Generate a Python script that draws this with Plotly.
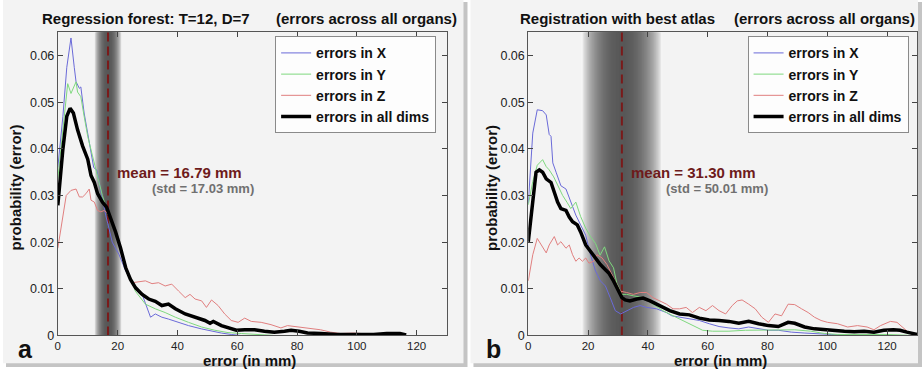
import plotly.graph_objects as go

# ---------------- data ----------------
SERIES_NAMES = ["errors in X", "errors in Y", "errors in Z", "errors in all dims"]
PANEL_TITLES = ["Regression forest: T=12, D=7", "Registration with best atlas"]
PANEL_SUBTITLE = "(errors across all organs)"
PANEL_LETTERS = ["a", "b"]
MEANS = [16.79, 31.30]
STDS = [17.03, 50.01]
X_TICKS = [0, 20, 40, 60, 80, 100, 120]
Y_TICKS = [0, 0.01, 0.02, 0.03, 0.04, 0.05, 0.06]
Y_TICK_TEXT = ["0", "0.01", "0.02", "0.03", "0.04", "0.05", "0.06"]

# Panel a - regression forest
rf_x_err = [0, 1.7, 3, 4.4, 5.5, 6.1, 7.2, 7.7, 8.8, 10, 11, 12, 13, 14, 15, 16, 17.1, 18.2, 20.5, 22.7,
            24.9, 25.9, 28.2, 31, 32.6, 34.8, 37, 40.4, 43.7, 48, 51.4, 54.7, 58, 61]
rf_x_prob = [0.036, 0.047, 0.0575, 0.0638, 0.0575, 0.0544, 0.053, 0.0533, 0.0477, 0.0434, 0.040, 0.036,
             0.0355, 0.032, 0.029, 0.0258, 0.023, 0.020, 0.0173, 0.0138, 0.0117, 0.0102, 0.0088, 0.0039,
             0.0046, 0.0039, 0.0035, 0.0028, 0.0021, 0.0014, 0.0009, 0.0005, 0.0002, 0.0]
rf_y_err = [0, 1.7, 3.3, 4.4, 5.2, 6.1, 6.6, 7.7, 8.8, 10, 11.6, 13.3, 14.9, 16.6, 18.2, 19.9, 21.6, 23.2,
            24.9, 25.9, 29.3, 32.6, 35.9, 39.3, 43.7, 48.1, 52.5, 56.9, 61.4, 68, 72]
rf_y_prob = [0.0336, 0.0449, 0.054, 0.0519, 0.053, 0.0544, 0.0522, 0.0512, 0.047, 0.0427, 0.0385, 0.0343,
             0.030, 0.0265, 0.0237, 0.0208, 0.0173, 0.0138, 0.0117, 0.0095, 0.0067, 0.0057, 0.0049,
             0.0039, 0.0028, 0.0018, 0.0011, 0.0006, 0.0004, 0.0002, 0.0]
rf_z_err = [0, 1.7, 2.8, 4.4, 6.1, 7.2, 8.3, 9.4, 10.5, 11.1, 12.2, 13.3, 14.4, 15.5, 16.6, 17.7, 18.8,
            20.5, 22.1, 23.8, 24.9, 27, 29.3, 31.5, 33.7, 35.9, 38.1, 40.4, 42.6, 44.2, 45.9, 48.1, 49.7,
            51.4, 53.6, 55.8, 58, 60.3, 62.5, 64.7, 68, 71.3, 74.6, 76.8, 79, 81.8, 84.5, 87.9, 91.2,
            94.5, 99, 102.3, 107.8, 112]
rf_z_prob = [0.0187, 0.0258, 0.030, 0.0311, 0.0314, 0.0297, 0.0297, 0.0304, 0.0314, 0.029, 0.0286,
             0.0268, 0.0265, 0.0268, 0.0262, 0.0247, 0.0226, 0.0194, 0.0159, 0.0131, 0.0113, 0.0115,
             0.0117, 0.0111, 0.0113, 0.0106, 0.011, 0.0095, 0.0081, 0.0088, 0.0078, 0.0074, 0.006,
             0.0076, 0.0064, 0.0046, 0.0032, 0.0028, 0.0037, 0.003, 0.0028, 0.0023, 0.0016, 0.0021,
             0.0019, 0.0016, 0.0014, 0.0012, 0.0007, 0.0004, 0.0005, 0.0004, 0.0001, 0.0]
rf_all_err = [0, 1.7, 3, 4.1, 5.2, 6.6, 8.3, 10, 11.1, 12.2, 13.3, 14.9, 16.3, 17.7, 19.3, 21, 22.7, 24.3,
              26, 28.2, 30.4, 32.6, 34.8, 37, 39.3, 42.6, 45.9, 49.2, 50.9, 52, 54.7, 58, 59.7, 62.5,
              65.8, 69.1, 72.4, 75.8, 78, 80.7, 83.5, 87.9, 93.4, 99, 105.6, 110, 114.4, 116.5]
rf_all_prob = [0.0279, 0.040, 0.047, 0.0487, 0.0477, 0.0441, 0.0406, 0.0378, 0.0343, 0.0328, 0.0304,
               0.0286, 0.0275, 0.0251, 0.0222, 0.0187, 0.0145, 0.012, 0.0102, 0.0088, 0.0078, 0.0073,
               0.0064, 0.0067, 0.0057, 0.0046, 0.0039, 0.0032, 0.0026, 0.003, 0.0021, 0.0014, 0.0011,
               0.0012, 0.0012, 0.0009, 0.0007, 0.0009, 0.0011, 0.0009, 0.0005, 0.0004, 0.0002, 0.0002,
               0.0002, 0.0004, 0.0004, 0.0001]

# Panel b - registration with best atlas
ra_x_err = [0, 1.5, 3, 4.8, 6, 7, 7.6, 8.2, 9.3, 10.9, 12.6, 14.2, 15.9, 17.5, 19.2, 20.8, 22.5, 24.1,
            25.8, 27.4, 29.1, 30.9, 32.9, 35.2, 37.4, 39.6, 42.9, 46.2, 48, 50.6, 53.9, 57.2, 60.5, 63.8,
            67.1, 70.4, 73.7, 77, 80.3, 83.6, 88, 92.5, 96.9, 101.3, 106]
ra_x_prob = [0.0283, 0.0434, 0.0484, 0.0482, 0.0473, 0.0431, 0.0427, 0.037, 0.035, 0.0321, 0.0314,
             0.0286, 0.0258, 0.0237, 0.0215, 0.0173, 0.0138, 0.0117, 0.0106, 0.0081, 0.0053, 0.0046,
             0.0053, 0.0060, 0.0064, 0.006, 0.0057, 0.0049, 0.0042, 0.0039, 0.0035, 0.0032, 0.0025,
             0.0019, 0.0016, 0.0014, 0.0018, 0.0014, 0.0011, 0.0011, 0.0007, 0.0005, 0.0004, 0.0002, 0.0]
ra_y_err = [0, 1.5, 3, 4.8, 6, 7, 8.5, 10, 11.5, 13, 14.2, 15.9, 17.5, 19.2, 20.8, 22.5, 24, 25.5, 27,
            28.5, 29.6, 31.3, 32.9, 35.1, 38.4, 41.7, 45, 49.4, 52.8, 56.1, 58.3, 61.6, 67.1, 72.6, 78.1,
            83.6, 89.1, 94.5, 99, 103.4, 110, 120, 128]
ra_y_prob = [0.028, 0.033, 0.0365, 0.0377, 0.0362, 0.0355, 0.034, 0.032, 0.030, 0.0285, 0.0272, 0.0286,
             0.0255, 0.023, 0.0212, 0.0197, 0.0172, 0.019, 0.016, 0.0145, 0.0112, 0.0088, 0.0088,
             0.0085, 0.0081, 0.0067, 0.0053, 0.0039, 0.0028, 0.0018, 0.0011, 0.0009, 0.0009, 0.0011,
             0.0011, 0.0011, 0.0012, 0.0009, 0.0004, 0.0002, 0.0002, 0.0002, 0.0]
ra_z_err = [0, 1.5, 3, 4.3, 6, 7, 8.7, 9.8, 10.9, 12.6, 13.7, 14.8, 15.9, 17, 18.1, 19.2, 20.3, 21.9, 23,
            24.7, 26.3, 28.5, 30.7, 32.9, 35.1, 37.4, 39.6, 41.7, 44, 46.2, 48.4, 50.6, 52.8, 54.9,
            57.2, 59.4, 61.6, 63.8, 66, 68.2, 69.9, 71.5, 73.7, 75.9, 78.1, 80.3, 82.5, 84.7, 86.9,
            89.1, 91.4, 93.6, 95.7, 97.9, 100.1, 103.4, 106.8, 110.1, 113.3, 115.6, 117.8, 121.1,
            123.3, 125, 126.7, 128.4]
ra_z_prob = [0.0117, 0.0173, 0.0208, 0.0194, 0.0177, 0.0194, 0.0212, 0.0194, 0.0201, 0.0187, 0.0194,
             0.0173, 0.0159, 0.0166, 0.0159, 0.0166, 0.0155, 0.0159, 0.0173, 0.0166, 0.0152, 0.0124,
             0.0095, 0.0092, 0.0088, 0.0092, 0.0092, 0.0081, 0.0074, 0.0067, 0.0057, 0.0057, 0.006,
             0.0049, 0.006, 0.0053, 0.0064, 0.0053, 0.0046, 0.0064, 0.0074, 0.0076, 0.0067, 0.0057,
             0.0039, 0.0028, 0.0046, 0.0042, 0.0067, 0.0066, 0.0057, 0.0049, 0.0039, 0.0032, 0.0028,
             0.0025, 0.0018, 0.0021, 0.0018, 0.0012, 0.0021, 0.003, 0.0028, 0.0018, 0.0009, 0.0004]
ra_all_err = [0, 1.5, 2.6, 3.7, 4.8, 6, 7.6, 8.7, 9.8, 10.9, 12.6, 13.7, 14.8, 16.4, 17.5, 19.2, 20.8,
              22.5, 24.1, 25.8, 26.9, 28.5, 30.2, 31.3, 32.4, 34, 36.3, 38.4, 40.7, 44, 47.3, 50.6,
              53.9, 57.2, 60.5, 63.8, 67.1, 70.4, 73.7, 77, 80.3, 83.6, 86.9, 89.1, 92.4, 95.7, 99,
              102.4, 105.7, 109, 112.3, 115.6, 118.9, 122.1, 124.3, 126.6, 128.3, 130]
ra_all_prob = [0.0201, 0.0286, 0.035, 0.0355, 0.035, 0.0336, 0.0328, 0.0307, 0.0286, 0.0272, 0.0268,
               0.0254, 0.0244, 0.0237, 0.0222, 0.0194, 0.018, 0.0166, 0.0152, 0.0141, 0.0134, 0.0117,
               0.0095, 0.0081, 0.0076, 0.0074, 0.0078, 0.008, 0.0074, 0.0064, 0.0053, 0.0046, 0.0044,
               0.0037, 0.0033, 0.0032, 0.003, 0.0026, 0.003, 0.0025, 0.0021, 0.0019, 0.0028, 0.0026,
               0.0018, 0.0014, 0.0012, 0.0011, 0.0009, 0.0008, 0.0009, 0.0007, 0.0011, 0.0012, 0.0011,
               0.0007, 0.0004, 0.0002]

# ---------------- style ----------------
W, H = 923, 379
FONT = "Liberation Sans, Arial, sans-serif"
COLORS = ["#6a6ad8", "#7ed87e", "#e07f7f", "#000000"]
WIDTHS = [1, 1, 1, 3.5]
PLOT_BG = "#f7f7f7"
PANEL_BG = "#f3f3f3"
MEAN_COLOR = "#6e1b1b"
STD_COLOR = "#707070"
BAND_FRAC = 0.27
X_RANGE = [0, 130]
Y_RANGE = [0, 0.065]

def px(v):
    return v / W

def py(v):
    return 1 - v / H

panels = [
    dict(data=[(rf_x_err, rf_x_prob), (rf_y_err, rf_y_prob), (rf_z_err, rf_z_prob), (rf_all_err, rf_all_prob)],
         xdom=(55, 445), title_left=37, sub_right=457, ylab_x=13, letter_x=13, legend_x=273, xlab_x=247),
    dict(data=[(ra_x_err, ra_x_prob), (ra_y_err, ra_y_prob), (ra_z_err, ra_z_prob), (ra_all_err, ra_all_prob)],
         xdom=(527, 917), title_left=517, sub_right=917, ylab_x=490, letter_x=483, legend_x=747, xlab_x=720),
]

fig = go.Figure()
shapes = []
annotations = []

# panel backgrounds with shadow
for x0, x1 in [(0, 462), (469, 918)]:
    shapes.append(dict(type="rect", xref="paper", yref="paper", x0=px(x0 + 3), x1=px(x1 + 4),
                       y0=py(374), y1=py(2), fillcolor="#c4c4c4", line=dict(width=0), layer="below"))
    shapes.append(dict(type="rect", xref="paper", yref="paper", x0=px(x0), x1=px(x1),
                       y0=py(370), y1=py(0), fillcolor=PANEL_BG, line=dict(width=0), layer="below"))

layout_axes = {}
for i, p in enumerate(panels):
    ax = "" if i == 0 else str(i + 1)
    xa, ya = "x" + ax, "y" + ax
    leg = "legend" if i == 0 else "legend2"
    for (xs, ys), name, col, w in zip(p["data"], SERIES_NAMES, COLORS, WIDTHS):
        fig.add_trace(go.Scatter(x=xs, y=ys, mode="lines", name=name, xaxis=xa, yaxis=ya,
                                 line=dict(color=col, width=w), legend=leg, showlegend=True))
    layout_axes["xaxis" + ax] = dict(domain=[px(p["xdom"][0]), px(p["xdom"][1])], range=X_RANGE, anchor=ya,
                                     tickvals=X_TICKS, ticks="inside", ticklen=5, tickcolor="#444",
                                     showline=True, linecolor="#555", linewidth=1, mirror="allticks",
                                     showgrid=False, zeroline=False,
                                     tickfont=dict(family=FONT, size=11.5, color="#222"))
    layout_axes["yaxis" + ax] = dict(domain=[py(341.7), py(33)], range=Y_RANGE, anchor=xa,
                                     tickvals=Y_TICKS, ticktext=Y_TICK_TEXT, ticks="inside", ticklen=5,
                                     tickcolor="#444", showline=True, linecolor="#555", linewidth=1,
                                     mirror="allticks", showgrid=False, zeroline=False,
                                     tickfont=dict(family=FONT, size=12.5, color="#222"))
    layout_axes[leg] = dict(x=px(p["legend_x"]), y=py(37), xanchor="left", yanchor="top",
                            bgcolor="#fdfdfd", bordercolor="#8a8a8a", borderwidth=1,
                            font=dict(family=FONT, size=14, color="#111", weight="bold"),
                            tracegroupgap=0, itemwidth=30)

    # gradient band around the mean: nested rectangles, darkest innermost
    mean, std = MEANS[i], STDS[i]
    hw = BAND_FRAC * std
    n = 40
    bg = (247, 247, 247)
    dark = (88, 88, 88)
    for k in range(n):
        t = 1 - k / n
        f = max(0.0, 1 - t ** 2.2) ** 0.8
        c = tuple(int(round(b + (d - b) * f)) for b, d in zip(bg, dark))
        shapes.append(dict(type="rect", xref=xa, yref=ya + " domain", x0=mean - hw * t, x1=mean + hw * t,
                           y0=0, y1=1, fillcolor="rgb(%d,%d,%d)" % c, line=dict(width=0), layer="below"))
    shapes.append(dict(type="line", xref=xa, yref=ya + " domain", x0=mean, x1=mean, y0=0, y1=1,
                       line=dict(color="#7a1a1a", width=2, dash="9px,5px"), layer="below"))

    # mean / std labels
    annotations.append(dict(xref=xa, yref=ya, x=mean + 2.6, y=0.0350, xanchor="left", yanchor="middle",
                            text="<b>mean = %.2f mm</b>" % mean, showarrow=False, borderpad=0,
                            font=dict(family=FONT, size=15, color=MEAN_COLOR)))
    annotations.append(dict(xref=xa, yref=ya, x=mean + 14.5, y=0.0316, xanchor="left", yanchor="middle",
                            text="<b>(std = %.2f mm)</b>" % std, showarrow=False, borderpad=0,
                            font=dict(family=FONT, size=13, color=STD_COLOR)))

    # titles
    annotations.append(dict(xref="paper", yref="paper", x=px(p["title_left"]), y=py(19), xanchor="left",
                            yanchor="middle", text="<b>%s</b>" % PANEL_TITLES[i], showarrow=False,
                            font=dict(family=FONT, size=15, color="#111")))
    annotations.append(dict(xref="paper", yref="paper", x=px(p["sub_right"]), y=py(19), xanchor="right",
                            yanchor="middle", text="<b>%s</b>" % PANEL_SUBTITLE, showarrow=False,
                            font=dict(family=FONT, size=15, color="#111")))
    # axis titles
    annotations.append(dict(xref="paper", yref="paper", x=px(p["xlab_x"]), y=py(367), xanchor="center",
                            yanchor="middle", text="<b>error (in mm)</b>", showarrow=False, borderpad=0,
                            font=dict(family=FONT, size=15, color="#111")))
    annotations.append(dict(xref="paper", yref="paper", x=px(p["ylab_x"]), y=py(191), xanchor="center",
                            yanchor="middle", text="<b>probability (error)</b>", showarrow=False,
                            textangle=-90, font=dict(family=FONT, size=15, color="#111")))
    # panel letter
    annotations.append(dict(xref="paper", yref="paper", x=px(p["letter_x"]), y=py(356), xanchor="left",
                            yanchor="middle", text="<b>%s</b>" % PANEL_LETTERS[i], showarrow=False,
                            font=dict(family=FONT, size=25, color="#111")))

fig.update_layout(width=W, height=H, margin=dict(l=0, r=0, t=0, b=0), paper_bgcolor="white",
                  plot_bgcolor=PLOT_BG, shapes=shapes, annotations=annotations, **layout_axes)

fig.write_html("out.html", config={"displayModeBar": False},
               post_script="document.body.style.margin='0';document.body.style.overflow='hidden';")
